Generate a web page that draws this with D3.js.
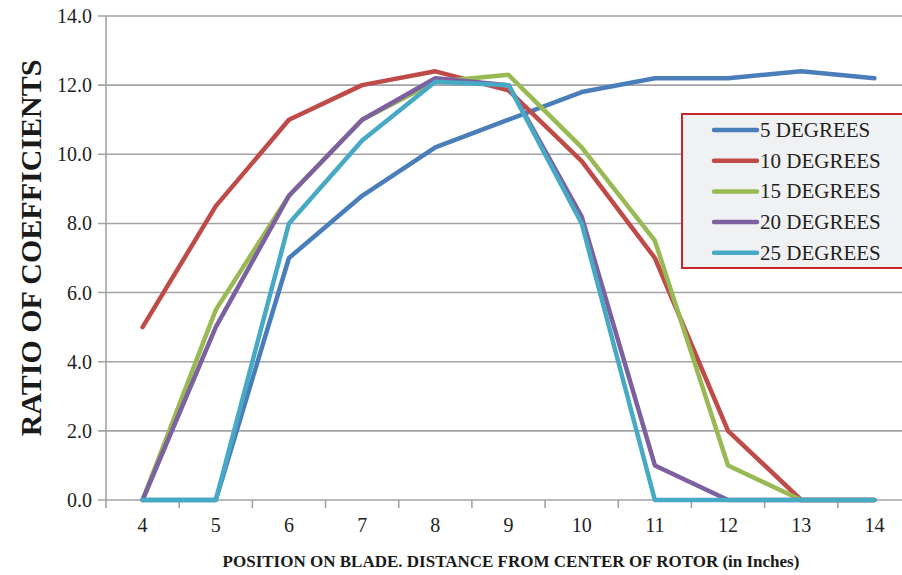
<!DOCTYPE html>
<html lang="en">
<head>
  <meta charset="UTF-8">
  <title>Ratio of coefficients</title>
  <script src="https://d3js.org/d3.v7.min.js"></script>
  <style>
    body {
      margin: 0;
      background: #fff;
      overflow: hidden;
    }
    svg {
      display: block;
    }
    svg text {
      font-family: "Liberation Serif", "DejaVu Serif", serif;
    }
  </style>
</head>
<body>
  <svg></svg>
  <script>
    const positions = [4, 5, 6, 7, 8, 9, 10, 11, 12, 13, 14];
    const seriesNames = ["5 DEGREES", "10 DEGREES", "15 DEGREES", "20 DEGREES", "25 DEGREES"];
    const deg5 = [0, 0, 7.0, 8.8, 10.2, 11.0, 11.8, 12.2, 12.2, 12.4, 12.2];
    const deg10 = [5.0, 8.5, 11.0, 12.0, 12.4, 11.85, 9.8, 7.0, 2.0, 0, 0];
    const deg15 = [0, 5.5, 8.8, 11.0, 12.1, 12.3, 10.2, 7.5, 1.0, 0, 0];
    const deg20 = [0, 5.0, 8.8, 11.0, 12.2, 12.0, 8.2, 1.0, 0, 0, 0];
    const deg25 = [0, 0, 8.0, 10.4, 12.1, 12.0, 8.0, 0, 0, 0, 0];
    const yTicks = [0, 2, 4, 6, 8, 10, 12, 14];
    const colors = ["#4a7ebb", "#be4b48", "#98b954", "#7d60a0", "#46aac5"];

    const allSeries = [deg5, deg10, deg15, deg20, deg25];
    const width = 902, height = 575;
    const plotLeft = 106, plotRight = 911, plotTop = 16, plotBottom = 500;
    const serif = "'Liberation Serif', 'DejaVu Serif', serif";

    const svg = d3.select("svg").attr("width", width).attr("height", height);

    const x = d3.scaleBand().domain(positions).range([plotLeft, plotRight]);
    const y = d3.scaleLinear().domain([0, 14]).range([plotBottom, plotTop]);
    const gridColor = "#a3a3a6";

    // horizontal gridlines
    svg.append("g")
      .selectAll("line")
      .data(yTicks)
      .join("line")
      .attr("x1", plotLeft - 8)
      .attr("x2", plotRight)
      .attr("y1", d => y(d))
      .attr("y2", d => y(d))
      .attr("stroke", gridColor)
      .attr("stroke-width", 1.6);

    // y axis line
    svg.append("line")
      .attr("x1", plotLeft).attr("x2", plotLeft)
      .attr("y1", plotTop).attr("y2", plotBottom + 8)
      .attr("stroke", gridColor)
      .attr("stroke-width", 1.6);

    // x ticks at category boundaries
    const boundaries = positions.map(p => x(p)).concat([plotRight]);
    svg.append("g")
      .selectAll("line")
      .data(boundaries.slice(1))
      .join("line")
      .attr("x1", d => d).attr("x2", d => d)
      .attr("y1", plotBottom).attr("y2", plotBottom + 8)
      .attr("stroke", gridColor)
      .attr("stroke-width", 1.6);

    // y tick labels
    svg.append("g")
      .selectAll("text")
      .data(yTicks)
      .join("text")
      .attr("x", 92)
      .attr("y", d => y(d) + 7)
      .attr("text-anchor", "end")
      .attr("font-family", serif)
      .attr("font-size", 20)
      .attr("fill", "#222")
      .text(d => d3.format(".1f")(d));

    // x tick labels
    svg.append("g")
      .selectAll("text")
      .data(positions)
      .join("text")
      .attr("x", d => x(d) + x.bandwidth() / 2)
      .attr("y", 532)
      .attr("text-anchor", "middle")
      .attr("font-family", serif)
      .attr("font-size", 20)
      .attr("fill", "#222")
      .text(d => d);

    // series lines
    const line = d3.line()
      .x((d, i) => x(positions[i]) + x.bandwidth() / 2)
      .y(d => y(d));

    svg.append("g")
      .selectAll("path")
      .data(allSeries)
      .join("path")
      .attr("d", line)
      .attr("fill", "none")
      .attr("stroke", (d, i) => colors[i])
      .attr("stroke-width", 4.5)
      .attr("stroke-linejoin", "round")
      .attr("stroke-linecap", "round");

    // axis titles
    svg.append("text")
      .attr("transform", "translate(41,248) rotate(-90)")
      .attr("text-anchor", "middle")
      .attr("font-family", serif)
      .attr("font-size", 30)
      .attr("font-weight", "bold")
      .attr("fill", "#1a1a1a")
      .text("RATIO OF COEFFICIENTS");

    svg.append("text")
      .attr("x", 511)
      .attr("y", 567)
      .attr("text-anchor", "middle")
      .attr("font-family", serif)
      .attr("font-size", 17)
      .attr("font-weight", "bold")
      .attr("fill", "#1a1a1a")
      .text("POSITION ON BLADE. DISTANCE FROM CENTER OF ROTOR (in Inches)");

    // legend
    const legend = svg.append("g");
    legend.append("rect")
      .attr("x", 682).attr("y", 114)
      .attr("width", 240).attr("height", 154)
      .attr("fill", "#f0f1f3")
      .attr("stroke", "#c8242d")
      .attr("stroke-width", 2);

    const rows = legend.selectAll("g.row")
      .data(seriesNames)
      .join("g")
      .attr("class", "row")
      .attr("transform", (d, i) => `translate(0,${130 + i * 30.7})`);

    rows.append("line")
      .attr("x1", 714).attr("x2", 757)
      .attr("y1", 0).attr("y2", 0)
      .attr("stroke", (d, i) => colors[i])
      .attr("stroke-width", 4.5)
      .attr("stroke-linecap", "round");

    rows.append("text")
      .attr("x", 760)
      .attr("y", 7)
      .attr("font-family", serif)
      .attr("font-size", 21)
      .attr("fill", "#222")
      .text(d => d);
  </script>
</body>
</html>
